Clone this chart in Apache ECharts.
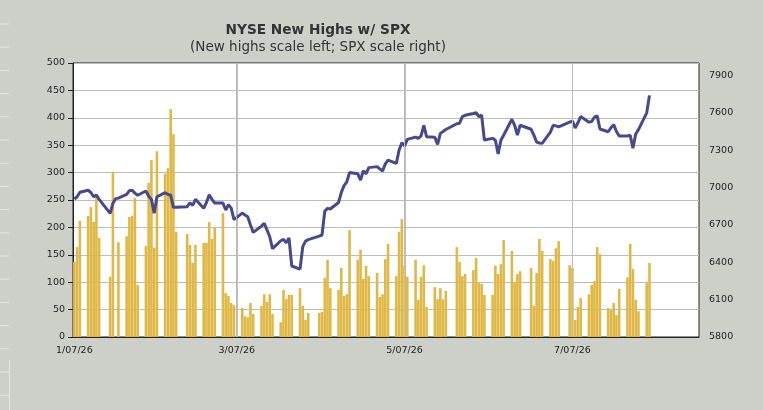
<!DOCTYPE html>
<html>
<head>
<meta charset="utf-8">
<script src="https://cdn.jsdelivr.net/npm/echarts@6/dist/echarts.min.js"></script>
<style>
html, body { margin: 0; padding: 0; background: #ccd0c9; }
#wrap { position: relative; width: 763px; height: 410px; background: #ccd0c9; }
#plotbg { position: absolute; left: 73px; top: 63px; width: 626px; height: 274px; background: #ffffff; }
#chart { position: absolute; left: 0; top: 0; width: 763px; height: 410px; }
</style>
</head>
<body>
<div id="wrap">
  <div id="plotbg"></div>
  <div id="chart"></div>
</div>
<script>
// trading days shown on the chart
var dates = [
  '2026-01-07','2026-01-08','2026-01-09','2026-01-12','2026-01-13','2026-01-14','2026-01-15','2026-01-16',
  '2026-01-20','2026-01-21','2026-01-22','2026-01-23','2026-01-26','2026-01-27','2026-01-28','2026-01-29','2026-01-30',
  '2026-02-02','2026-02-03','2026-02-04','2026-02-05','2026-02-06','2026-02-09','2026-02-10','2026-02-11','2026-02-12','2026-02-13',
  '2026-02-17','2026-02-18','2026-02-19','2026-02-20','2026-02-23','2026-02-24','2026-02-25','2026-02-26','2026-02-27',
  '2026-03-02','2026-03-03','2026-03-04','2026-03-05','2026-03-06','2026-03-09','2026-03-10','2026-03-11','2026-03-12','2026-03-13',
  '2026-03-16','2026-03-17','2026-03-18','2026-03-19','2026-03-20','2026-03-23','2026-03-24','2026-03-25','2026-03-26','2026-03-27',
  '2026-03-30','2026-03-31',
  '2026-04-01','2026-04-02','2026-04-06','2026-04-07','2026-04-08','2026-04-09','2026-04-10',
  '2026-04-13','2026-04-14','2026-04-15','2026-04-16','2026-04-17','2026-04-20','2026-04-21','2026-04-22','2026-04-23','2026-04-24',
  '2026-04-27','2026-04-28','2026-04-29','2026-04-30',
  '2026-05-01','2026-05-04','2026-05-05','2026-05-06','2026-05-07','2026-05-08','2026-05-11','2026-05-12','2026-05-13','2026-05-14','2026-05-15',
  '2026-05-18','2026-05-19','2026-05-20','2026-05-21','2026-05-22','2026-05-26','2026-05-27','2026-05-28','2026-05-29',
  '2026-06-01','2026-06-02','2026-06-03','2026-06-04','2026-06-05','2026-06-08','2026-06-09','2026-06-10','2026-06-11','2026-06-12',
  '2026-06-15','2026-06-16','2026-06-17','2026-06-18','2026-06-22','2026-06-23','2026-06-24','2026-06-25','2026-06-26',
  '2026-06-29','2026-06-30',
  '2026-07-01','2026-07-02','2026-07-06','2026-07-07','2026-07-08','2026-07-09','2026-07-10','2026-07-13','2026-07-14','2026-07-15','2026-07-16','2026-07-17',
  '2026-07-20','2026-07-21','2026-07-22','2026-07-23','2026-07-24','2026-07-27','2026-07-28','2026-07-29','2026-07-30','2026-07-31',
  '2026-08-03','2026-08-04'
];

// NYSE new highs (left scale)
var newHighs = [
  137,164,212,221,237,210,255,181,
  110,301,null,173,184,219,221,254,95,
  166,281,323,163,339,298,308,416,370,192,
  188,168,135,168,172,172,210,179,200,
  226,80,75,62,58,53,38,36,62,42,
  57,78,64,78,42,27,86,69,77,77,
  89,57,
  31,44,44,46,108,141,89,
  86,126,75,78,195,141,159,106,130,111,
  117,73,78,142,
  170,111,192,215,131,110,141,68,110,131,55,
  91,69,89,69,84,164,137,111,115,
  122,144,99,97,77,77,130,115,133,177,
  157,100,115,120,126,57,117,179,157,
  142,139,
  162,175,131,126,31,55,71,78,95,102,164,151,
  53,49,62,40,88,109,170,124,68,47,
  100,135
];

// SPX close (right scale)
var spx = [
  6908,6926,6962,6978,6960,6926,6940,6905,
  6793,6873,6911,6915,6945,6975,6978,6955,6938,
  6972,6930,6905,6793,6926,6959,6945,6938,6841,6842,
  6846,6878,6857,6906,6833,6880,6942,6905,6876,
  6875,6820,6862,6835,6742,6795,6780,6766,6700,6640,
  6690,6713,6660,6605,6509,6573,6584,6557,6595,6370,
  6345,6525,
  6570,6582,6610,6619,6810,6833,6828,
  6880,6960,7015,7045,7120,7110,7060,7135,7110,7160,
  7168,7150,7133,7190,
  7221,7194,7300,7360,7335,7387,7405,7395,7414,7500,7408,
  7403,7347,7435,7450,7466,7512,7516,7570,7580,
  7595,7601,7569,7582,7382,7395,7380,7269,7380,7420,
  7548,7500,7422,7500,7468,7420,7365,7358,7355,
  7445,7500,
  7495,7488,7525,7534,7478,7520,7570,7525,7530,7565,7575,7470,
  7448,7480,7505,7450,7414,7414,7420,7315,7430,7465,
  7600,7740
];

var labelDates = ['2026-01-07','2026-03-07','2026-05-07','2026-07-07'];

function toTime(s) {
  var p = s.split('-');
  return new Date(+p[0], +p[1] - 1, +p[2]).getTime();
}
function pad(n) { return n < 10 ? '0' + n : '' + n; }

var xMin = new Date(2026, 0, 6, 12).getTime();
var xMax = new Date(2026, 7, 22).getTime();
var tickTimes = labelDates.map(toTime);
var barData = dates.map(function (d, i) { return [toTime(d), newHighs[i] == null ? '-' : newHighs[i]]; });
var lineData = dates.map(function (d, i) { return [toTime(d), spx[i]]; });

var edgeLines = [];
for (var k = 0; k < 17; k++) {
  edgeLines.push({
    type: 'line', silent: true,
    shape: { x1: 0, y1: 24 + k * 23.2, x2: 9, y2: 24 + k * 23.2 },
    style: { stroke: '#e4e6e2', lineWidth: 1 }
  });
}
edgeLines.push({
  type: 'line', silent: true,
  shape: { x1: 9.5, y1: 360, x2: 9.5, y2: 410 },
  style: { stroke: '#e4e6e2', lineWidth: 1 }
});

var gridBox = { left: 73, right: 64, top: 63, bottom: 73 };
var plotW = 763 - gridBox.left - gridBox.right;

// vertical gridlines at the labelled dates (the white plot area sits under the canvas)
var vLines = tickTimes.slice(1).map(function (t) {
  var x = Math.round(gridBox.left + (t - xMin) / (xMax - xMin) * plotW) + 0.5;
  return {
    type: 'line', silent: true,
    shape: { x1: x, y1: gridBox.top, x2: x, y2: 410 - gridBox.bottom },
    style: { stroke: '#bdbdbd', lineWidth: 1 }
  };
});

var chart = echarts.init(document.getElementById('chart'));
var axisFont = { fontFamily: 'DejaVu Sans', fontSize: 9.5, color: '#222' };

chart.setOption({
  backgroundColor: 'transparent',
  animation: false,
  graphic: edgeLines.concat(vLines).concat([
    {
      type: 'text', x: 318, y: 30,
      style: { text: 'NYSE New Highs w/ SPX', fontFamily: 'DejaVu Sans', fontWeight: 'bold', fontSize: 13.7,
               fill: '#333', align: 'center', verticalAlign: 'middle' }
    },
    {
      type: 'text', x: 318, y: 47,
      style: { text: '(New highs scale left; SPX scale right)', fontFamily: 'DejaVu Sans', fontSize: 13.5,
               fill: '#333', align: 'center', verticalAlign: 'middle' }
    }
  ]),
  grid: {
    left: gridBox.left, right: gridBox.right, top: gridBox.top, bottom: gridBox.bottom,
    show: true, backgroundColor: 'transparent', borderColor: '#222', borderWidth: 1
  },
  // dates go on a plain value axis (ms timestamps) so the four label days can be set exactly
  xAxis: {
    type: 'value',
    min: xMin,
    max: xMax,
    axisLine: { show: true, lineStyle: { color: '#222' } },
    axisTick: { show: false, customValues: tickTimes },
    axisLabel: {
      customValues: tickTimes,
      margin: 9,
      fontFamily: axisFont.fontFamily, fontSize: axisFont.fontSize, color: axisFont.color,
      formatter: function (v) {
        var d = new Date(v);
        return (d.getMonth() + 1) + '/' + pad(d.getDate()) + '/' + String(d.getFullYear()).slice(2);
      }
    },
    splitLine: { show: false }
  },
  yAxis: [
    {
      type: 'value', min: 0, max: 500, interval: 50,
      axisLine: { show: true, lineStyle: { color: '#222' } },
      axisTick: { show: true, length: 5, lineStyle: { color: '#222' } },
      axisLabel: { margin: 8, fontFamily: axisFont.fontFamily, fontSize: axisFont.fontSize, color: axisFont.color },
      splitLine: { show: true, lineStyle: { color: '#bdbdbd', width: 1 } }
    },
    {
      type: 'value', position: 'right', min: 5800, max: 8000, interval: 300,
      axisLine: { show: false },
      axisTick: { show: false },
      splitLine: { show: false },
      axisLabel: {
        margin: 10, showMaxLabel: false,
        fontFamily: axisFont.fontFamily, fontSize: axisFont.fontSize, color: axisFont.color,
        formatter: function (v) { return v > 7900 ? '' : String(v); }
      }
    }
  ],
  series: [
    {
      name: 'New Highs', type: 'bar', yAxisIndex: 0,
      data: barData, barWidth: 2.6,
      itemStyle: { color: '#e0b846' },
      markLine: {
        silent: true, symbol: ['none', 'none'], animation: false,
        label: { show: false },
        lineStyle: { color: '#bdbdbd', width: 1, type: 'solid' },
        data: tickTimes.slice(1).map(function (t) { return { xAxis: t }; })
      }
    },
    {
      name: 'SPX', type: 'line', yAxisIndex: 1,
      data: lineData, showSymbol: false, symbol: 'none',
      lineStyle: { color: '#46498e', width: 3 }
    }
  ]
});
</script>
</body>
</html>
